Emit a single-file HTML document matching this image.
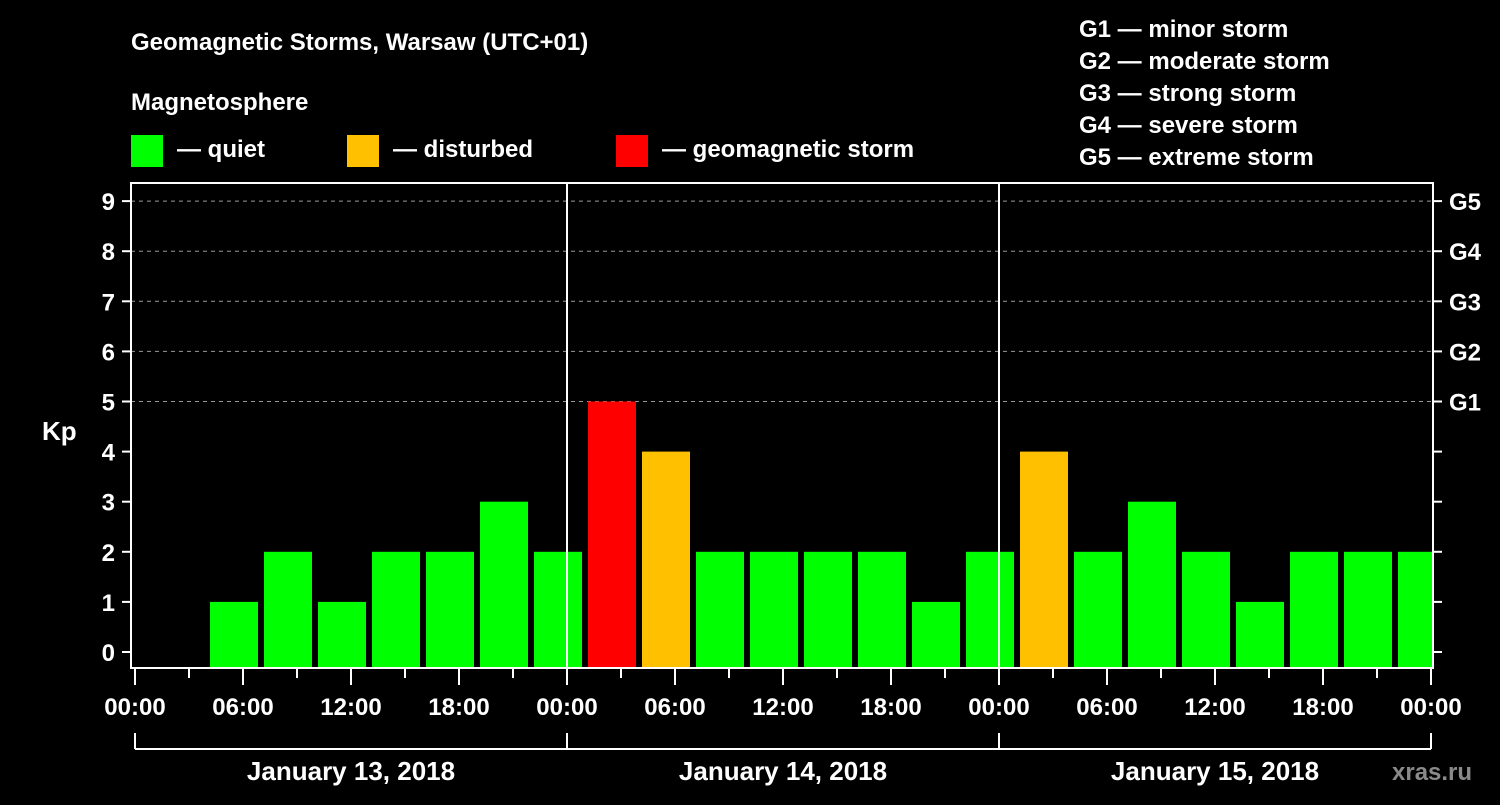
<!DOCTYPE html>
<html><head><meta charset="utf-8"><style>
body{margin:0;background:#000;}
svg text{font-family:"Liberation Sans",Arial,sans-serif;font-weight:bold;fill:#fff;}
</style></head><body>
<svg width="1500" height="800" xmlns="http://www.w3.org/2000/svg">
<rect width="1500" height="800" fill="#000"/>
<text x="131" y="50" font-size="24">Geomagnetic Storms, Warsaw (UTC+01)</text>
<text x="131" y="110" font-size="24">Magnetosphere</text>
<g>
<rect x="131" y="135" width="32" height="32" fill="#00ff00"/>
<text x="177" y="157" font-size="24">— quiet</text>
<rect x="347" y="135" width="32" height="32" fill="#ffc000"/>
<text x="393" y="157" font-size="24">— disturbed</text>
<rect x="616" y="135" width="32" height="32" fill="#ff0000"/>
<text x="662" y="157" font-size="24">— geomagnetic storm</text>
</g>
<g font-size="24">
<text x="1079" y="37">G1 — minor storm</text>
<text x="1079" y="69">G2 — moderate storm</text>
<text x="1079" y="101">G3 — strong storm</text>
<text x="1079" y="133">G4 — severe storm</text>
<text x="1079" y="165">G5 — extreme storm</text>
</g>
<text x="42" y="440" font-size="26">Kp</text>
<g id="grid"></g>
<g id="bars"></g>
<g id="axes"></g>
<text x="1392" y="780" font-size="24" fill="#888" style="fill:#8a8a8a">xras.ru</text>
</svg>
<script>
const kpValues=[0,1,2,1,2,2,3,2, 5,4,2,2,2,2,1,2, 4,2,3,2,1,2,2,2];
const yTicks=[0,1,2,3,4,5,6,7,8,9];
const gLabels=["G1","G2","G3","G4","G5"];
const xTickLabels=["00:00","06:00","12:00","18:00","00:00","06:00","12:00","18:00","00:00","06:00","12:00","18:00","00:00"];
const dayLabels=["January 13, 2018","January 14, 2018","January 15, 2018"];
const NS="http://www.w3.org/2000/svg";
const L=131,R=1433,T=183,B=668;
const X0=135,PXH=18;
const xs=h=>X0+h*PXH;
const ys=v=>652-v*50.1;
function mk(tag,attrs,parent,txt){const e=document.createElementNS(NS,tag);for(const k in attrs)e.setAttribute(k,attrs[k]);if(txt!==undefined)e.textContent=txt;parent.appendChild(e);return e;}
const grid=document.getElementById('grid'),bars=document.getElementById('bars'),axes=document.getElementById('axes');
for(let v=5;v<=9;v++){const l=mk('line',{x1:L,x2:R,y1:ys(v),y2:ys(v),stroke:'#999','stroke-dasharray':'4,4','stroke-width':1},grid);

}
kpValues.forEach((v,i)=>{if(v<=0)return;const x=xs(i*3)+21;const w=Math.min(48,R-x);
const c=v>=5?'#ff0000':(v>=4?'#ffc000':'#00ff00');
const r=mk('rect',{x:x,y:ys(v),width:w,height:B-ys(v),fill:c},bars);

});
// day separators
for(let d=1;d<3;d++){const l=mk('line',{x1:xs(d*24),x2:xs(d*24),y1:T,y2:B,stroke:'#fff','stroke-width':2},axes);

}
const box=mk('rect',{x:L,y:T,width:R-L,height:B-T,fill:'none',stroke:'#fff','stroke-width':2},axes);


yTicks.forEach(v=>{const y=ys(v);
mk('line',{x1:122,x2:L,y1:y,y2:y,stroke:'#fff','stroke-width':2},axes);
mk('line',{x1:R,x2:1442,y1:y,y2:y,stroke:'#fff','stroke-width':2},axes);
const t=mk('text',{x:115,y:y+9,'font-size':24,'text-anchor':'end'},axes,String(v));


if(v>=5){const g=mk('text',{x:1449,y:y+9,'font-size':24},axes,gLabels[v-5]);

}});
for(let h=0;h<=72;h+=3){const major=h%6===0;mk('line',{x1:xs(h),x2:xs(h),y1:B,y2:major?685:678,stroke:'#fff','stroke-width':2},axes);}
xTickLabels.forEach((s,i)=>{const t=mk('text',{x:xs(i*6),y:715,'font-size':24,'text-anchor':'middle'},axes,s);

});
mk('line',{x1:xs(0),x2:xs(72),y1:749,y2:749,stroke:'#fff','stroke-width':2},axes);
for(let d=0;d<=3;d++)mk('line',{x1:xs(d*24),x2:xs(d*24),y1:733,y2:749,stroke:'#fff','stroke-width':2},axes);
dayLabels.forEach((s,i)=>{const t=mk('text',{x:xs(i*24+12),y:780,'font-size':26,'text-anchor':'middle'},axes,s);

});
</script>
</body></html>
